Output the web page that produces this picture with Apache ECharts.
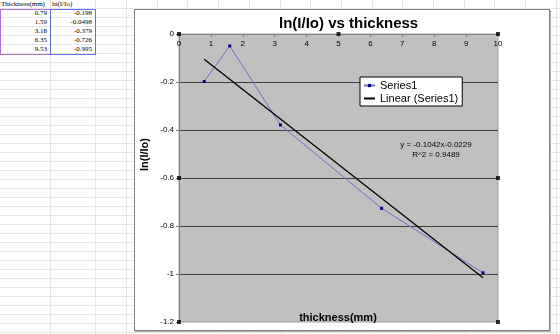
<!DOCTYPE html>
<html>
	<head>
		<meta charset="utf-8" />
		<title>ln(I/Io) vs thickness</title>
		<script type="text/javascript" src="https://cdn.jsdelivr.net/npm/echarts@6/dist/echarts.min.js"></script>
		<style>
			body { margin:0; width:560px; height:334px; position:relative; overflow:hidden; background:#fff;
				background-image: repeating-linear-gradient(to bottom, transparent 0 8px, #e6e6e6 8px 9px); }
			.vline { position:absolute; top:0; width:1px; height:334px; background:#e6e6e6; }
			#cols { position:absolute; left:126px; top:0; width:434px; height:334px;
				background-image: repeating-linear-gradient(to right, #e6e6e6 0 1px, transparent 1px 30.7px); }
			.cell { position:absolute; height:9px; line-height:9px; font-family:"Liberation Serif","DejaVu Serif",serif; font-size:7px; color:#000; white-space:nowrap; }
			#chart { position:absolute; left:134px; top:9px; width:414px; height:320px; background:#fff;
				border:1px solid #808080; box-shadow:1px 1px 0 #b0b0b0; }
		</style>
	</head>
	<body>
		<div class="vline" style="left:50px"></div>
		<div class="vline" style="left:95px"></div>
		<div id="cols"></div>
		<div id="sheet"></div>
		<div id="chart"></div>
	</body>
	<script>
	// data
	var thickness = [0.79, 1.59, 3.18, 6.35, 9.53];
	var lnRatio = [-0.198, -0.0498, -0.379, -0.726, -0.995];
	// linear trendline end points (y = -0.1042x - 0.0229)
	var trendX = [0.79, 9.53];
	var trendY = [-0.105, -1.016];
	var headers = ['Thickness(mm)', 'ln(I/Io)'];
	// excel selection handles round the plot area
	var handleX = [0, 5, 10, 0, 10, 0, 10];
	var handleY = [0, 0, 0, -0.6, -0.6, -1.2, -1.2];

	// spreadsheet cells
	var sheet = document.getElementById('sheet');
	function cell(txt, x, y, w, align){
		var d = document.createElement('div');
		d.className = 'cell';
		d.style.left = x + 'px'; d.style.top = y + 'px'; d.style.width = w + 'px';
		d.style.textAlign = align;
		d.innerText = txt;
		sheet.appendChild(d);
	}
	cell(headers[0], 1, 0, 48, 'left');
	cell(headers[1], 52, 0, 42, 'left');
	for (var i = 0; i < thickness.length; i++){
		cell(String(thickness[i]), 0, 9 + i*9, 47, 'right');
		cell(String(lnRatio[i]), 51, 9 + i*9, 41, 'right');
	}
	var b1 = document.createElement('div');
	b1.style.cssText = 'position:absolute;left:0;top:9px;width:49px;height:44px;border:1px solid #b070d8;';
	sheet.appendChild(b1);
	var b2 = document.createElement('div');
	b2.style.cssText = 'position:absolute;left:50px;top:9px;width:44px;height:44px;border:1px solid #6070e0;';
	sheet.appendChild(b2);

	var dom = document.getElementById('chart');
	var myChart = echarts.init(dom, null, { renderer: 'canvas' });

	var pts = thickness.map(function(x, i){ return [x, lnRatio[i]]; });
	var trend = trendX.map(function(x, i){ return [x, trendY[i]]; });
	var handles = handleX.map(function(x, i){ return [x, handleY[i]]; });
	var font = 'Liberation Sans, Arial, sans-serif';

	var option = {
		animation: false,
		textStyle: { fontFamily: font },
		title: {
			text: 'ln(I/Io) vs thickness',
			left: 144, top: 6, padding: 0,
			textStyle: { fontSize: 15, fontWeight: 'bold', color: '#000', fontFamily: font }
		},
		legend: {
			data: [
				{ name: 'Series1' },
				{ name: 'Linear (Series1)', itemStyle: { color: 'rgba(0,0,0,0)', opacity: 0 } }
			],
			orient: 'vertical',
			left: 225, top: 67,
			backgroundColor: '#fff',
			borderColor: '#000', borderWidth: 1,
			borderRadius: 0,
			padding: [3, 4, 2, 3],
			itemGap: 2,
			itemWidth: 11, itemHeight: 4,
			textStyle: { fontSize: 11, color: '#000', fontFamily: font }
		},
		grid: {
			left: 44, right: 51, top: 24, bottom: 8,
			show: true, backgroundColor: '#c0c0c0',
			borderColor: '#a0a0a0', borderWidth: 1
		},
		xAxis: {
			type: 'value', position: 'top',
			min: 0, max: 10, interval: 1,
			axisLine: { show: true, onZero: false, lineStyle: { color: '#808080' } },
			axisTick: { show: true, inside: true, length: 3, lineStyle: { color: '#808080' } },
			axisLabel: { inside: true, margin: 6, fontSize: 8, color: '#000' },
			splitLine: { show: false }
		},
		yAxis: {
			type: 'value',
			min: -1.2, max: 0, interval: 0.2,
			axisLine: { show: true, onZero: false, lineStyle: { color: '#808080' } },
			axisTick: { show: true, length: 3, lineStyle: { color: '#808080' } },
			axisLabel: {
				margin: 5, fontSize: 8, color: '#000',
				formatter: function(v){ return String(Math.round(v * 10) / 10); }
			},
			splitLine: { show: true, showMinLine: false, showMaxLine: false, lineStyle: { color: '#404040', width: 1 } }
		},
		series: [
			{
				name: 'Series1', type: 'line',
				data: pts,
				symbol: 'rect', symbolSize: 3,
				itemStyle: { color: '#000080' },
				lineStyle: { color: '#7070c8', width: 1 }
			},
			{
				name: 'Linear (Series1)', type: 'line',
				data: trend,
				symbol: 'none',
				itemStyle: { color: '#000' },
				lineStyle: { color: '#000', width: 1.3 }
			},
			{
				name: 'handles', type: 'scatter',
				data: handles,
				symbol: 'rect', symbolSize: 4,
				itemStyle: { color: '#000' },
				silent: true, z: 5
			}
		],
		graphic: [
			{
				type: 'text', left: 4, top: 128, rotation: Math.PI / 2,
				style: { text: 'ln(I/Io)', font: 'bold 11px ' + font, fill: '#000' }
			},
			{
				type: 'text', x: 203, y: 308,
				style: { text: 'thickness(mm)', font: 'bold 11px ' + font, fill: '#000', align: 'center', verticalAlign: 'middle' }
			},
			{
				type: 'text', x: 301, y: 135,
				style: { text: 'y = -0.1042x-0.0229', font: '8px ' + font, fill: '#000', align: 'center', verticalAlign: 'middle' }
			},
			{
				type: 'text', x: 301, y: 145,
				style: { text: 'R^2 = 0.9489', font: '8px ' + font, fill: '#000', align: 'center', verticalAlign: 'middle' }
			}
		]
	};
	myChart.setOption(option);
	window.addEventListener('resize', myChart.resize);
	</script>
</html>
